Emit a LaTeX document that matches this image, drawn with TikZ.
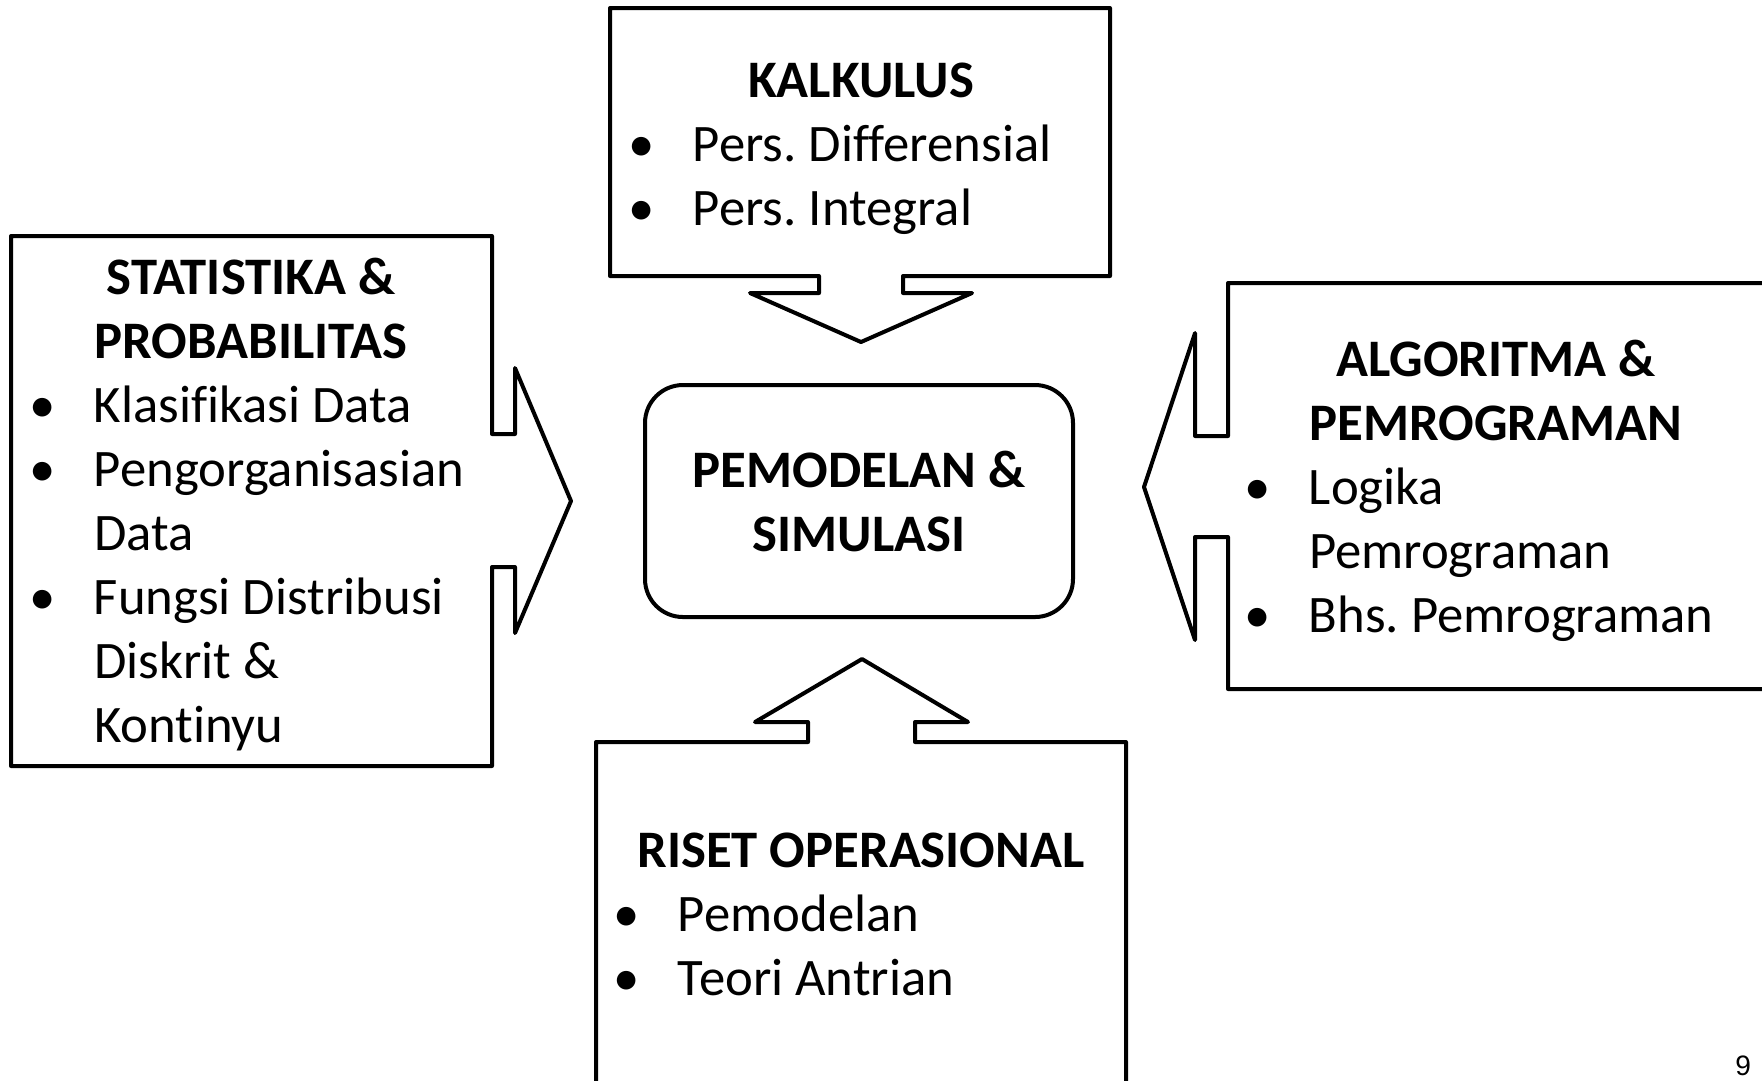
\documentclass[tikz,border=0pt]{standalone}
\usepackage{fontspec}
\setmainfont{Carlito}[Ligatures=NoCommon]
\newfontfamily\halfont{Liberation Sans}
\newcommand{\bul}{\llap{\makebox[10.2mm]{\textbullet}}}
\frenchspacing

\begin{document}
\begin{tikzpicture}[x=0.1mm,y=-0.1mm,line width=0.4mm,line join=round,
    every node/.style={inner sep=0pt,font=\fontsize{15}{18.2}\selectfont},
    judul/.style={font=\fontsize{15}{18.2}\selectfont\bfseries,align=center,anchor=base},
    isi/.style={align=left,anchor=base west}]
  \useasboundingbox(0,0)rectangle(1762,1080);
  \clip(0,0)rectangle(1762,1080);
  \draw(610,8)--(1110,8)--(1110,276)--(903,276)--(903,293)--(972,293)--(861,342)
    --(750,293)--(819,293)--(819,276)--(610,276)--cycle;
  \draw(11,236)--(492,236)--(492,434)--(515,434)--(515,368)--(571,501)
    --(515,633)--(515,567)--(492,567)--(492,766)--(11,766)--cycle;
  \draw(1780,283)--(1228,283)--(1228,436)--(1195,436)--(1195,333)--(1144,487)
    --(1195,640)--(1195,537)--(1228,537)--(1228,689)--(1780,689);
  \draw(596,1090)--(596,742)--(808,742)--(808,722)--(755,722)--(862,659)
    --(968,722)--(915,722)--(915,742)--(1126,742)--(1126,1090);
  \node[draw,rounded corners=3.8mm,minimum width=42.8mm,minimum height=23.2mm,
    font=\fontsize{15}{18.2}\selectfont\bfseries,align=center](model)at(859,501)
    {PEMODELAN \&\\SIMULASI};
  \node[judul](kalk)at(861,97){KALKULUS};
  \node[isi](kalkisi)at(691,225){\bul Pers. Differensial\\\bul Pers. Integral};
  \node[judul](stat)at(251,358){STATISTIKA \&\\PROBABILITAS};
  \node[isi](statisi)at(92,742){\bul Klasifikasi Data\\\bul Pengorganisasian\\Data\\
    \bul Fungsi Distribusi\\Diskrit \&\\Kontinyu};
  \node[judul](algo)at(1496,440){ALGORITMA \&\\PEMROGRAMAN};
  \node[isi](algoisi)at(1307,632){\bul Logika\\Pemrograman\\\bul Bhs. Pemrograman};
  \node[judul](riset)at(861,867){RISET OPERASIONAL};
  \node[isi](risetisi)at(676,995){\bul Pemodelan\\\bul Teori Antrian};
  \node[anchor=base east,font=\halfont\fontsize{8}{9.6}\selectfont](hal)at(1753,1075){9};
\end{tikzpicture}
\end{document}
